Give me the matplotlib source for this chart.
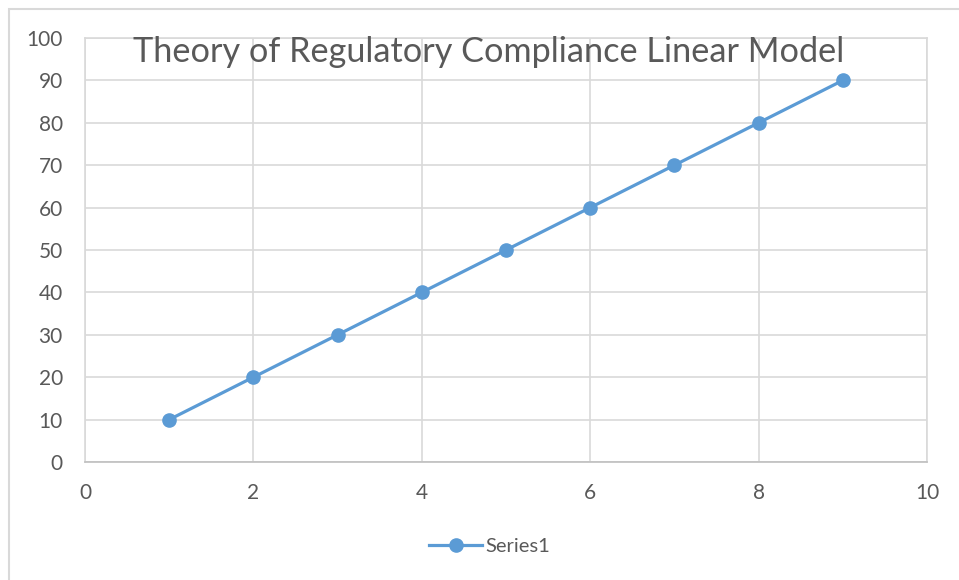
import matplotlib
matplotlib.use("Agg")
import matplotlib.pyplot as plt
from matplotlib.patches import Rectangle

# Data
x_vals = [1, 2, 3, 4, 5, 6, 7, 8, 9]
y_vals = [10, 20, 30, 40, 50, 60, 70, 80, 90]
x_ticks = [0, 2, 4, 6, 8, 10]
y_ticks = [0, 10, 20, 30, 40, 50, 60, 70, 80, 90, 100]
title = "Theory of Regulatory Compliance Linear Model"
series_name = "Series1"

plt.rcParams['font.family'] = ['Lato', 'DejaVu Sans']

line_color = '#5B9BD5'
text_color = '#595959'
grid_color = '#D9D9D9'

W, H = 959, 580
fig = plt.figure(figsize=(W / 100, H / 100), dpi=100)

# outer chart border (cropped at right/bottom in the reference)
fig.patches.append(Rectangle((9 / W, -0.1), 1.2, 1 - 9 / H + 0.1, transform=fig.transFigure,
                             fill=False, edgecolor='#D9D9D9', linewidth=1.5))

ax = fig.add_axes([85 / W, 1 - 462 / H, (927 - 85) / W, (462 - 38) / H])
ax.plot(x_vals, y_vals, color=line_color, linewidth=2.3, marker='o',
        markersize=9.5, label=series_name, zorder=3)

ax.set_xlim(0, 10)
ax.set_ylim(0, 100)
ax.set_xticks(x_ticks)
ax.set_yticks(y_ticks)
ax.tick_params(length=0, labelsize=15, labelcolor=text_color)
ax.tick_params(axis='y', pad=16)
ax.tick_params(axis='x', pad=15)
ax.grid(True, color=grid_color, linewidth=1.2)
ax.set_axisbelow(True)
for side in ['left', 'top', 'right']:
    ax.spines[side].set_color(grid_color)
    ax.spines[side].set_linewidth(1.2)
ax.spines['bottom'].set_color('#BFBFBF')
ax.spines['bottom'].set_linewidth(1.2)

fig.text(489 / W, 1 - 52 / H, title, ha='center', va='center',
         fontsize=24.7, color=text_color)

fig.legend(loc='center', bbox_to_anchor=(490 / W, 1 - 546 / H), frameon=False,
           fontsize=14.5, labelcolor=text_color, handlelength=2.6,
           handletextpad=0.2)

fig.savefig('out.png', dpi=100)
